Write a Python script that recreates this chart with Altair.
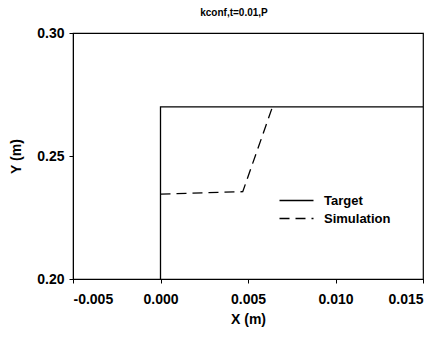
import altair as alt
import pandas as pd

target_x = [0.0, 0.0, 0.015]
target_y = [0.20, 0.27, 0.27]
sim_x = [0.0, 0.0047, 0.0064]
sim_y = [0.2345, 0.2355, 0.27]
series_names = ["Target", "Simulation"]

rows = []
for i, (x, y) in enumerate(zip(target_x, target_y)):
    rows.append({"x": x, "y": y, "series": "Target", "order": i})
for i, (x, y) in enumerate(zip(sim_x, sim_y)):
    rows.append({"x": x, "y": y, "series": "Simulation", "order": i})
df = pd.DataFrame(rows)

FONT = "Liberation Sans"

chart = alt.Chart(df).mark_line(color="black", strokeWidth=1.3, clip=True).encode(
    x=alt.X("x:Q", scale=alt.Scale(domain=[-0.005, 0.015], nice=False, zero=False),
            axis=alt.Axis(values=[-0.005, 0.0, 0.005, 0.01, 0.015], format=".3f",
                          labelExpr="replace(datum.label, '\u2212', '-')",
                          title="X (m)", grid=False, tickSize=4, labelPadding=9,
                          titlePadding=6)),
    y=alt.Y("y:Q", scale=alt.Scale(domain=[0.20, 0.30], nice=False, zero=False),
            axis=alt.Axis(values=[0.20, 0.25, 0.30], format=".2f",
                          title="Y (m)", grid=False, tickSize=4, labelPadding=5,
                          titlePadding=13)),
    strokeDash=alt.StrokeDash("series:N",
                              scale=alt.Scale(domain=series_names, range=[[1, 0], [10, 6]]),
                              legend=alt.Legend(title=None, orient="none", legendX=214,
                                                legendY=158, symbolType="M-2,0H2",
                                                symbolStrokeColor="black", symbolSize=289,
                                                symbolStrokeWidth=1.3, labelFontSize=13,
                                                labelFont=FONT, labelFontWeight="bold",
                                                labelColor="black", rowPadding=1,
                                                labelOffset=18)),
    order="order:Q",
).properties(
    width=350, height=246,
    background="white",
    title=alt.Title("kconf,t=0.01,P", fontSize=10, font=FONT, fontWeight="bold",
                    color="black", dx=-14, offset=8),
    autosize=alt.AutoSizeParams(type="none"),
    padding={"left": 73, "top": 33, "right": 20, "bottom": 59},
).configure_view(stroke="black", strokeWidth=1.2).configure_axis(
    domainColor="black", tickColor="black", labelColor="black", titleColor="black",
    labelFont=FONT, titleFont=FONT, labelFontSize=14, labelFontWeight="bold",
    titleFontSize=14, titleFontWeight="bold",
)

chart.save("out.html", embed_options={"renderer": "svg", "actions": False})
